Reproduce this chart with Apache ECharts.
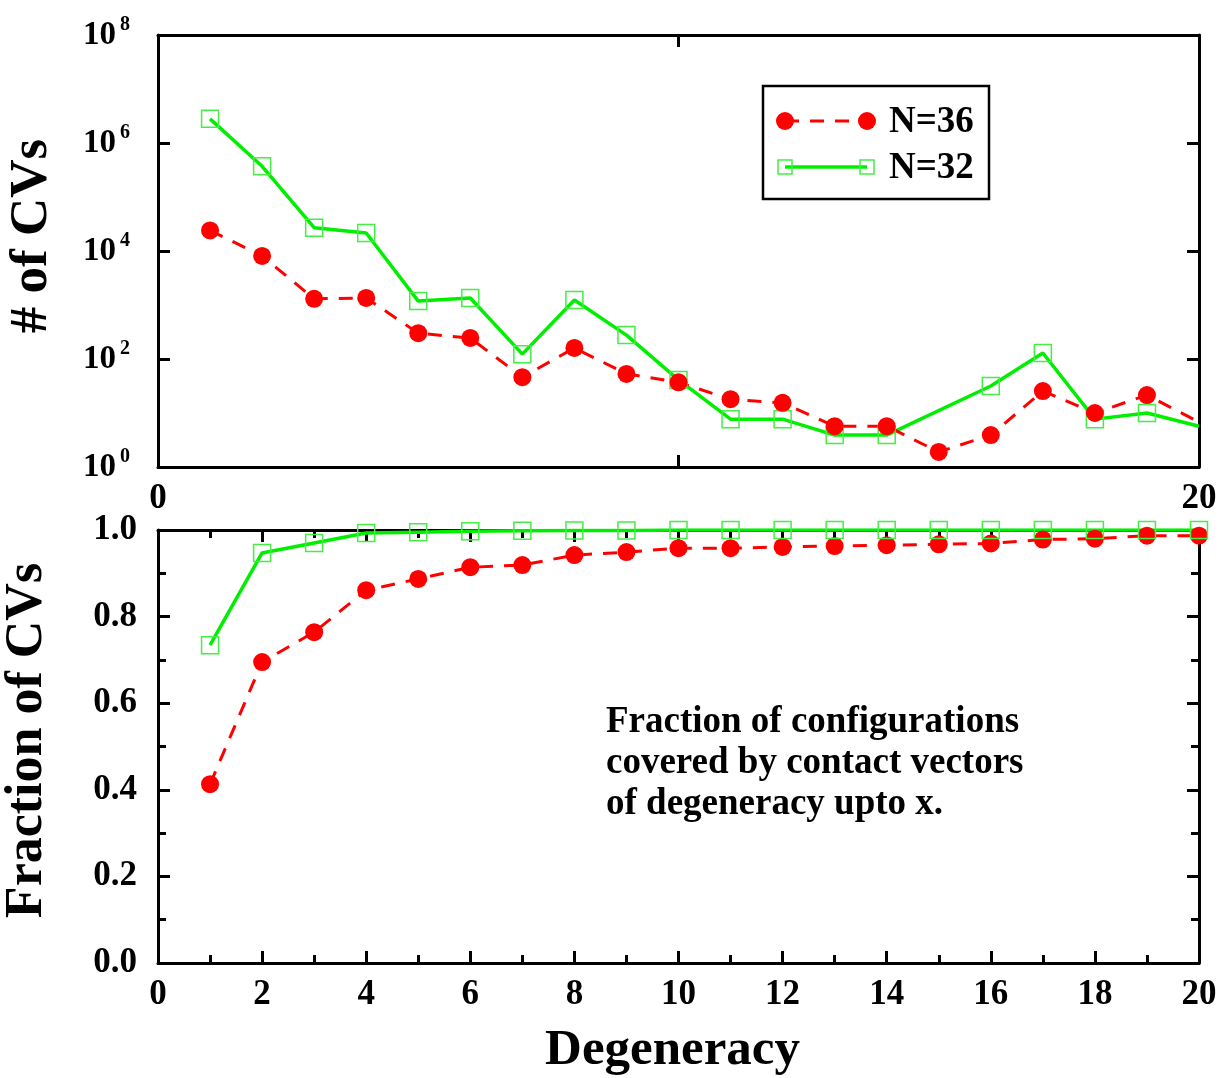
<!DOCTYPE html>
<html>
<head>
    <meta charset="UTF-8">
    <title>CV degeneracy</title>
    <style>
        html, body { margin: 0; padding: 0; background: #fff; }
    </style>
</head>
<body>
    <div id="main" style="width: 1225px;height:1078px;"></div>
    <script src="https://cdn.jsdelivr.net/npm/echarts@6/dist/echarts.min.js"></script>
    <script type="text/javascript">
        // degeneracy values (x)
        var degeneracy = [1, 2, 3, 4, 5, 6, 7, 8, 9, 10, 11, 12, 13, 14, 15, 16, 17, 18, 19, 20];
        // number of CVs, top panel (log scale)
        var countN36 = [24000, 8100, 1300, 1350, 300, 245, 46, 160, 53, 37, 18, 15.4, 5.7, 5.7, 1.9, 3.9, 25.5, 10, 21.5, 6.8];
        var degN32 = [1, 2, 3, 4, 5, 6, 7, 8, 9, 10, 11, 12, 13, 14, 16, 17, 18, 19, 20];
        var countN32 = [2.8e6, 3.7e5, 2.7e4, 2.15e4, 1180, 1350, 123, 1240, 277, 41, 7.7, 7.7, 3.9, 3.9, 31.6, 129, 7.7, 10, 5.7];
        // cumulative fraction, bottom panel
        var fracN36 = [0.413, 0.695, 0.764, 0.861, 0.887, 0.914, 0.919, 0.942, 0.949, 0.958, 0.958, 0.961, 0.963, 0.965, 0.967, 0.969, 0.978, 0.980, 0.987, 0.987];
        var fracN32 = [0.734, 0.947, 0.970, 0.993, 0.995, 0.997, 0.998, 0.999, 0.999, 1.0, 1.0, 1.0, 1.0, 1.0, 1.0, 1.0, 1.0, 1.0, 1.0, 1.0];
        var seriesNames = ['N=36', 'N=32'];
        var noteLines = ['Fraction of configurations', 'covered by contact vectors', 'of degeneracy upto x.'];

        var FONT = 'Liberation Serif';
        var RED = '#ff0000';
        var GREEN = '#00ee00';

        function pairs(xs, ys) {
            var out = [];
            for (var i = 0; i < xs.length; i++) out.push([xs[i], ys[i]]);
            return out;
        }
        // last point of top panel runs to the frame edge without a marker
        function topData(xs, ys) {
            var d = pairs(xs, ys);
            d[d.length - 1] = { value: d[d.length - 1], symbol: 'none' };
            return d;
        }

        // onZero off, otherwise the mirror axes get pulled onto the opposite side
        var axisLine = { show: true, onZero: false, lineStyle: { color: '#000', width: 3 } };
        var tick = { inside: true, length: 12, lineStyle: { width: 3, color: '#000' } };
        var minor = { show: true, splitNumber: 2, length: 8, lineStyle: { width: 3, color: '#000' } };
        var labelStyle = { color: '#000', fontFamily: FONT, fontWeight: 'bold', fontSize: 35 };

        var myChart = echarts.init(document.getElementById('main'));
        myChart.setOption({
            animation: false,
            backgroundColor: '#fff',
            grid: [
                { left: 158, top: 35, width: 1041, height: 432, containLabel: false, outerBoundsMode: 'none' },
                { left: 158, top: 530, width: 1041, height: 433, containLabel: false, outerBoundsMode: 'none' }
            ],
            xAxis: [
                {
                    gridIndex: 0, type: 'value', min: 0, max: 20, interval: 10, position: 'bottom',
                    axisLine: axisLine, splitLine: { show: false }, axisTick: tick,
                    axisLabel: Object.assign({ margin: 14, formatter: function (v) { return (v === 0 || v === 20) ? String(v) : ''; } }, labelStyle)
                },
                {
                    gridIndex: 0, type: 'value', min: 0, max: 20, interval: 10, position: 'top',
                    axisLine: axisLine, splitLine: { show: false }, axisTick: tick,
                    axisLabel: { show: false }
                },
                {
                    gridIndex: 1, type: 'value', min: 0, max: 20, interval: 2, position: 'bottom',
                    axisLine: axisLine, splitLine: { show: false }, axisTick: tick, minorTick: minor,
                    axisLabel: Object.assign({ margin: 14 }, labelStyle),
                    name: 'Degeneracy', nameLocation: 'middle', nameGap: 62,
                    nameTextStyle: { color: '#000', fontFamily: FONT, fontWeight: 'bold', fontSize: 51, padding: [0, 12, 0, 0] }
                },
                {
                    gridIndex: 1, type: 'value', min: 0, max: 20, interval: 2, position: 'top',
                    axisLine: axisLine, splitLine: { show: false }, axisTick: tick, minorTick: minor,
                    axisLabel: { show: false }
                }
            ],
            yAxis: [
                {
                    gridIndex: 0, type: 'log', logBase: 100, min: 1, max: 1e8, splitNumber: 4, position: 'left',
                    axisLine: axisLine, splitLine: { show: false }, axisTick: tick,
                    axisLabel: {
                        margin: 28, color: '#000',
                        formatter: function (v) { return '{b|10}{s|' + Math.round(Math.log10(v)) + '}'; },
                        rich: {
                            b: { fontFamily: FONT, fontWeight: 'bold', fontSize: 33, color: '#000' },
                            s: { fontFamily: FONT, fontWeight: 'bold', fontSize: 20, color: '#000', padding: [0, 0, 20, 4] }
                        }
                    },
                    name: '# of CVs', nameLocation: 'middle', nameGap: 99, nameRotate: 90,
                    nameTextStyle: { color: '#000', fontFamily: FONT, fontWeight: 'bold', fontSize: 53, padding: [0, 0, 0, 30] }
                },
                {
                    gridIndex: 0, type: 'log', logBase: 100, min: 1, max: 1e8, splitNumber: 4, position: 'right',
                    axisLine: axisLine, splitLine: { show: false }, axisTick: tick,
                    axisLabel: { show: false }
                },
                {
                    gridIndex: 1, type: 'value', min: 0, max: 1, interval: 0.2, position: 'left',
                    axisLine: axisLine, splitLine: { show: false }, axisTick: tick, minorTick: minor,
                    axisLabel: Object.assign({ margin: 21, formatter: function (v) { return v.toFixed(1); } }, labelStyle),
                    name: 'Fraction of CVs', nameLocation: 'middle', nameGap: 104, nameRotate: 90,
                    nameTextStyle: { color: '#000', fontFamily: FONT, fontWeight: 'bold', fontSize: 52, padding: [0, 0, 0, 12] }
                },
                {
                    gridIndex: 1, type: 'value', min: 0, max: 1, interval: 0.2, position: 'right',
                    axisLine: axisLine, splitLine: { show: false }, axisTick: tick, minorTick: minor,
                    axisLabel: { show: false }
                }
            ],
            series: [
                {
                    name: seriesNames[1], type: 'line', xAxisIndex: 0, yAxisIndex: 0,
                    data: topData(degN32, countN32),
                    symbol: 'rect', symbolSize: 17,
                    lineStyle: { color: GREEN, width: 3.5 },
                    itemStyle: { color: 'rgba(0,0,0,0)', borderColor: '#44ee44', borderWidth: 1.5 }
                },
                {
                    name: seriesNames[0], type: 'line', xAxisIndex: 0, yAxisIndex: 0,
                    data: topData(degeneracy, countN36),
                    symbol: 'circle', symbolSize: 18,
                    lineStyle: { color: RED, width: 3, type: [14, 11] },
                    itemStyle: { color: RED }
                },
                {
                    name: seriesNames[0], type: 'line', xAxisIndex: 2, yAxisIndex: 2,
                    data: pairs(degeneracy, fracN36),
                    symbol: 'circle', symbolSize: 18,
                    lineStyle: { color: RED, width: 3, type: [14, 11] },
                    itemStyle: { color: RED }
                },
                {
                    name: seriesNames[1], type: 'line', xAxisIndex: 2, yAxisIndex: 2,
                    data: pairs(degeneracy, fracN32),
                    symbol: 'rect', symbolSize: 17,
                    lineStyle: { color: GREEN, width: 3.5 },
                    itemStyle: { color: 'rgba(0,0,0,0)', borderColor: '#44ee44', borderWidth: 1.5 }
                }
            ],
            graphic: [
                // legend box
                { type: 'rect', shape: { x: 763, y: 86, width: 226, height: 113 }, style: { fill: '#fff', stroke: '#000', lineWidth: 2.5 }, z: 10 },
                { type: 'line', shape: { x1: 785, y1: 121, x2: 867, y2: 121 }, style: { stroke: RED, lineWidth: 3, lineDash: [14, 11] }, z: 11 },
                { type: 'circle', shape: { cx: 785, cy: 121, r: 9 }, style: { fill: RED }, z: 11 },
                { type: 'circle', shape: { cx: 867, cy: 121, r: 9 }, style: { fill: RED }, z: 11 },
                { type: 'text', left: 889, top: 104, style: { text: seriesNames[0], fill: '#000', font: 'bold 37px "Liberation Serif"' }, z: 11 },
                { type: 'line', shape: { x1: 785, y1: 167, x2: 867, y2: 167 }, style: { stroke: GREEN, lineWidth: 3.5 }, z: 11 },
                { type: 'rect', shape: { x: 778, y: 160, width: 14, height: 14 }, style: { fill: 'none', stroke: '#44ee44', lineWidth: 1.5 }, z: 11 },
                { type: 'rect', shape: { x: 860, y: 160, width: 14, height: 14 }, style: { fill: 'none', stroke: '#44ee44', lineWidth: 1.5 }, z: 11 },
                { type: 'text', left: 889, top: 150, style: { text: seriesNames[1], fill: '#000', font: 'bold 37px "Liberation Serif"' }, z: 11 },
                // note in the lower panel
                {
                    type: 'text', left: 606, top: 702, z: 11,
                    style: { text: noteLines.join('\n'), fill: '#000', font: 'bold 37px "Liberation Serif"', lineHeight: 41 }
                }
            ]
        });
    </script>
</body>
</html>
